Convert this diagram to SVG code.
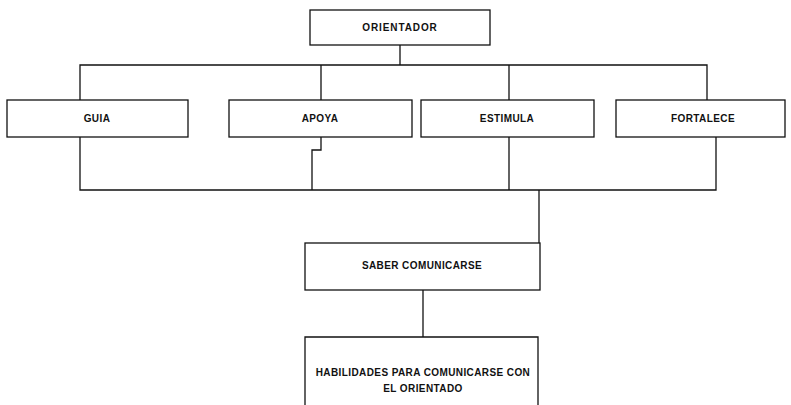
<svg xmlns="http://www.w3.org/2000/svg" width="791" height="405" viewBox="0 0 791 405">
<style>
.box{fill:none;stroke:#111;stroke-width:1.3}
.con{fill:none;stroke:#111;stroke-width:1.3}
text{font-family:"Liberation Sans",Arial,sans-serif;font-weight:bold;font-size:10px;fill:#111;text-anchor:middle;letter-spacing:0.4px}
</style>
<rect width="791" height="405" fill="#fff"/>
<g id="connectors">
<path class="con" d="M400,45 V65 M80,100 V65 H707 V100 M321,65 V100 M509,65 V100"/>
<path class="con" d="M80,137 V190 H716 V137 M321,137 V150 H312 V190 M509,137 V190"/>
<path class="con" d="M539,190 V243"/>
<path class="con" d="M423,290 V337"/>
</g>
<g id="orientador">
<rect class="box" x="310" y="10" width="180" height="35"/>
<text x="400" y="31" style="letter-spacing:0.9px">ORIENTADOR</text>
</g>
<g id="guia">
<rect class="box" x="7" y="100" width="181" height="37"/>
<text x="97" y="122">GUIA</text>
</g>
<g id="apoya">
<rect class="box" x="229" y="100" width="183" height="37"/>
<text x="320" y="122">APOYA</text>
</g>
<g id="estimula">
<rect class="box" x="421" y="100" width="173" height="37"/>
<text x="507" y="122">ESTIMULA</text>
</g>
<g id="fortalece">
<rect class="box" x="616" y="100" width="169" height="37"/>
<text x="703" y="122">FORTALECE</text>
</g>
<g id="saber">
<rect class="box" x="305" y="243" width="235" height="47"/>
<text x="422" y="269">SABER COMUNICARSE</text>
</g>
<g id="habilidades">
<path class="box" d="M305,406 V337 H538 V406"/>
<text x="423" y="376">HABILIDADES PARA COMUNICARSE CON</text>
<text x="423" y="392">EL ORIENTADO</text>
</g>
</svg>
